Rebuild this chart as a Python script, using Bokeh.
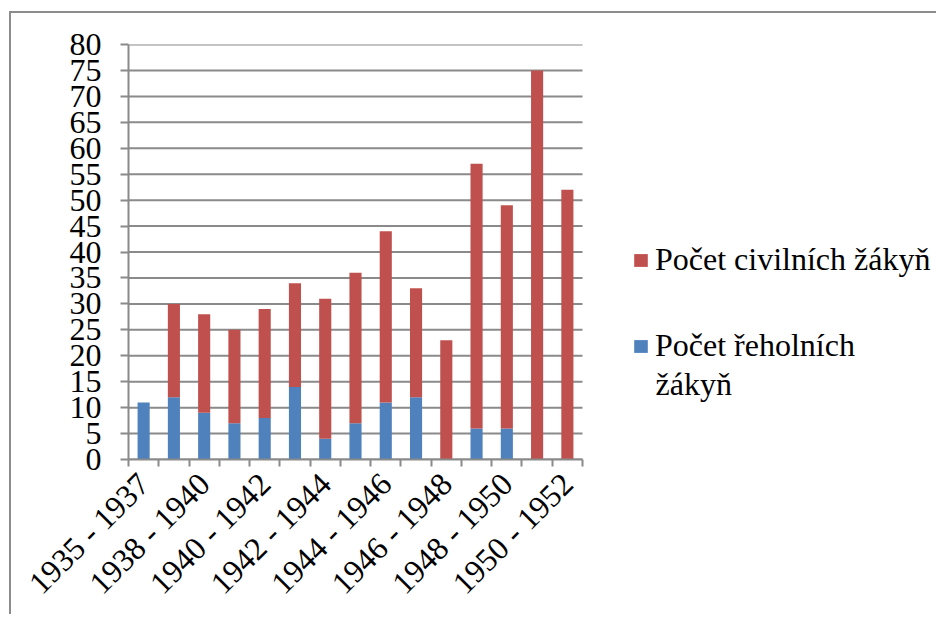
from bokeh.plotting import figure
from bokeh.models import (ColumnDataSource, Range1d, FixedTicker, Legend, LegendItem, Label)
from bokeh.embed import file_html
from bokeh.resources import INLINE

categories = ["1935 - 1937", "1937 - 1939", "1938 - 1940", "1939 - 1941", "1940 - 1942",
              "1941 - 1943", "1942 - 1944", "1943 - 1945", "1944 - 1946", "1945 - 1947",
              "1946 - 1948", "1947 - 1949", "1948 - 1950", "1949 - 1951", "1950 - 1952"]
reholni = [11, 12, 9, 7, 8, 14, 4, 7, 11, 12, 0, 6, 6, 0, 0]
civilni = [0, 18, 19, 18, 21, 20, 27, 29, 33, 21, 23, 51, 43, 75, 52]
y_ticks = list(range(0, 85, 5))
series_civil = "Počet civilních žákyň"
series_rehol = ["Počet řeholních", "žákyň"]

RED = "#C0504D"
BLUE = "#4F81BD"
GRID = "#8a8a8a"
FONT = "'Liberation Serif', 'Times New Roman', serif"

W, H = 927, 603
LEFT, TOP, BOTTOM = 117, 31, 155
CAT_PX = 454 / 15.0           # pixel width of one category slot
frame_w = W - LEFT
n = len(categories)

xs = list(range(1, n + 1))
source = ColumnDataSource(dict(x=xs, reholni=reholni, civilni=civilni))
grid_src = ColumnDataSource(dict(y=y_ticks, x0=[0.5] * len(y_ticks), x1=[n + 0.5] * len(y_ticks)))

p = figure(width=W, height=H, output_backend="svg", toolbar_location=None,
           x_range=Range1d(0.5, 0.5 + frame_w / CAT_PX), y_range=Range1d(0, 80),
           min_border_left=LEFT, min_border_right=0, min_border_top=TOP, min_border_bottom=BOTTOM)
p.outline_line_color = None
p.styles = {"margin-left": "9px", "margin-top": "11px",
            "border-left": "2px solid #8c8c8c", "border-top": "2px solid #8c8c8c"}

# horizontal gridlines limited to the category area
p.segment(x0="x0", x1="x1", y0="y", y1="y", source=grid_src, line_color=GRID, line_width=2)

rs = p.vbar_stack(["reholni", "civilni"], x="x", width=0.4, color=[BLUE, RED],
                  line_color=None, source=source)

p.xgrid.grid_line_color = None
p.ygrid.grid_line_color = None

p.yaxis.ticker = FixedTicker(ticks=y_ticks)
p.yaxis.axis_line_color = GRID
p.yaxis.axis_line_width = 2
p.yaxis.major_tick_line_color = GRID
p.yaxis.major_tick_line_width = 2
p.yaxis.major_tick_out = 8
p.yaxis.major_tick_in = 0
p.yaxis.minor_tick_line_color = None
p.yaxis.major_label_text_font = FONT
p.yaxis.major_label_text_font_size = "32px"
p.yaxis.major_label_text_color = "black"
p.yaxis.major_label_standoff = 19

label_pos = xs[::2]
p.xaxis.bounds = (0.5, n + 0.5)
p.xaxis.ticker = FixedTicker(ticks=label_pos, minor_ticks=[x - 0.5 for x in xs] + [n + 0.5])
p.xaxis.major_label_overrides = {x: categories[x - 1] for x in label_pos}
p.xaxis.axis_line_color = GRID
p.xaxis.axis_line_width = 2
p.xaxis.major_tick_line_color = None
p.xaxis.minor_tick_line_color = GRID
p.xaxis.minor_tick_line_width = 2
p.xaxis.minor_tick_out = 7
p.xaxis.minor_tick_in = 0
p.xaxis.major_label_orientation = 0.785398
p.xaxis.major_label_text_font = FONT
p.xaxis.major_label_text_font_size = "32px"
p.xaxis.major_label_text_color = "black"
p.xaxis.major_label_standoff = 12

legend = Legend(items=[LegendItem(label=series_civil, renderers=[rs[1]]),
                       LegendItem(label=series_rehol[0], renderers=[rs[0]])],
                location=(504, 95))
legend.label_text_font = FONT
legend.label_text_font_size = "32px"
legend.label_text_color = "black"
legend.padding = 0
legend.margin = 0
legend.border_line_color = None
legend.background_fill_alpha = 0
legend.glyph_width = 17
legend.glyph_height = 16
legend.label_standoff = 6
legend.spacing = 49
p.add_layout(legend, "center")

# continuation line of the second legend entry (wrapped text, no swatch)
cont = Label(x=527, y=76, x_units="screen", y_units="screen", text=series_rehol[1],
             text_font=FONT, text_font_size="32px", text_color="black",
             text_align="left", text_baseline="alphabetic")
p.add_layout(cont)

open("out.html", "w").write(file_html(p, INLINE))
